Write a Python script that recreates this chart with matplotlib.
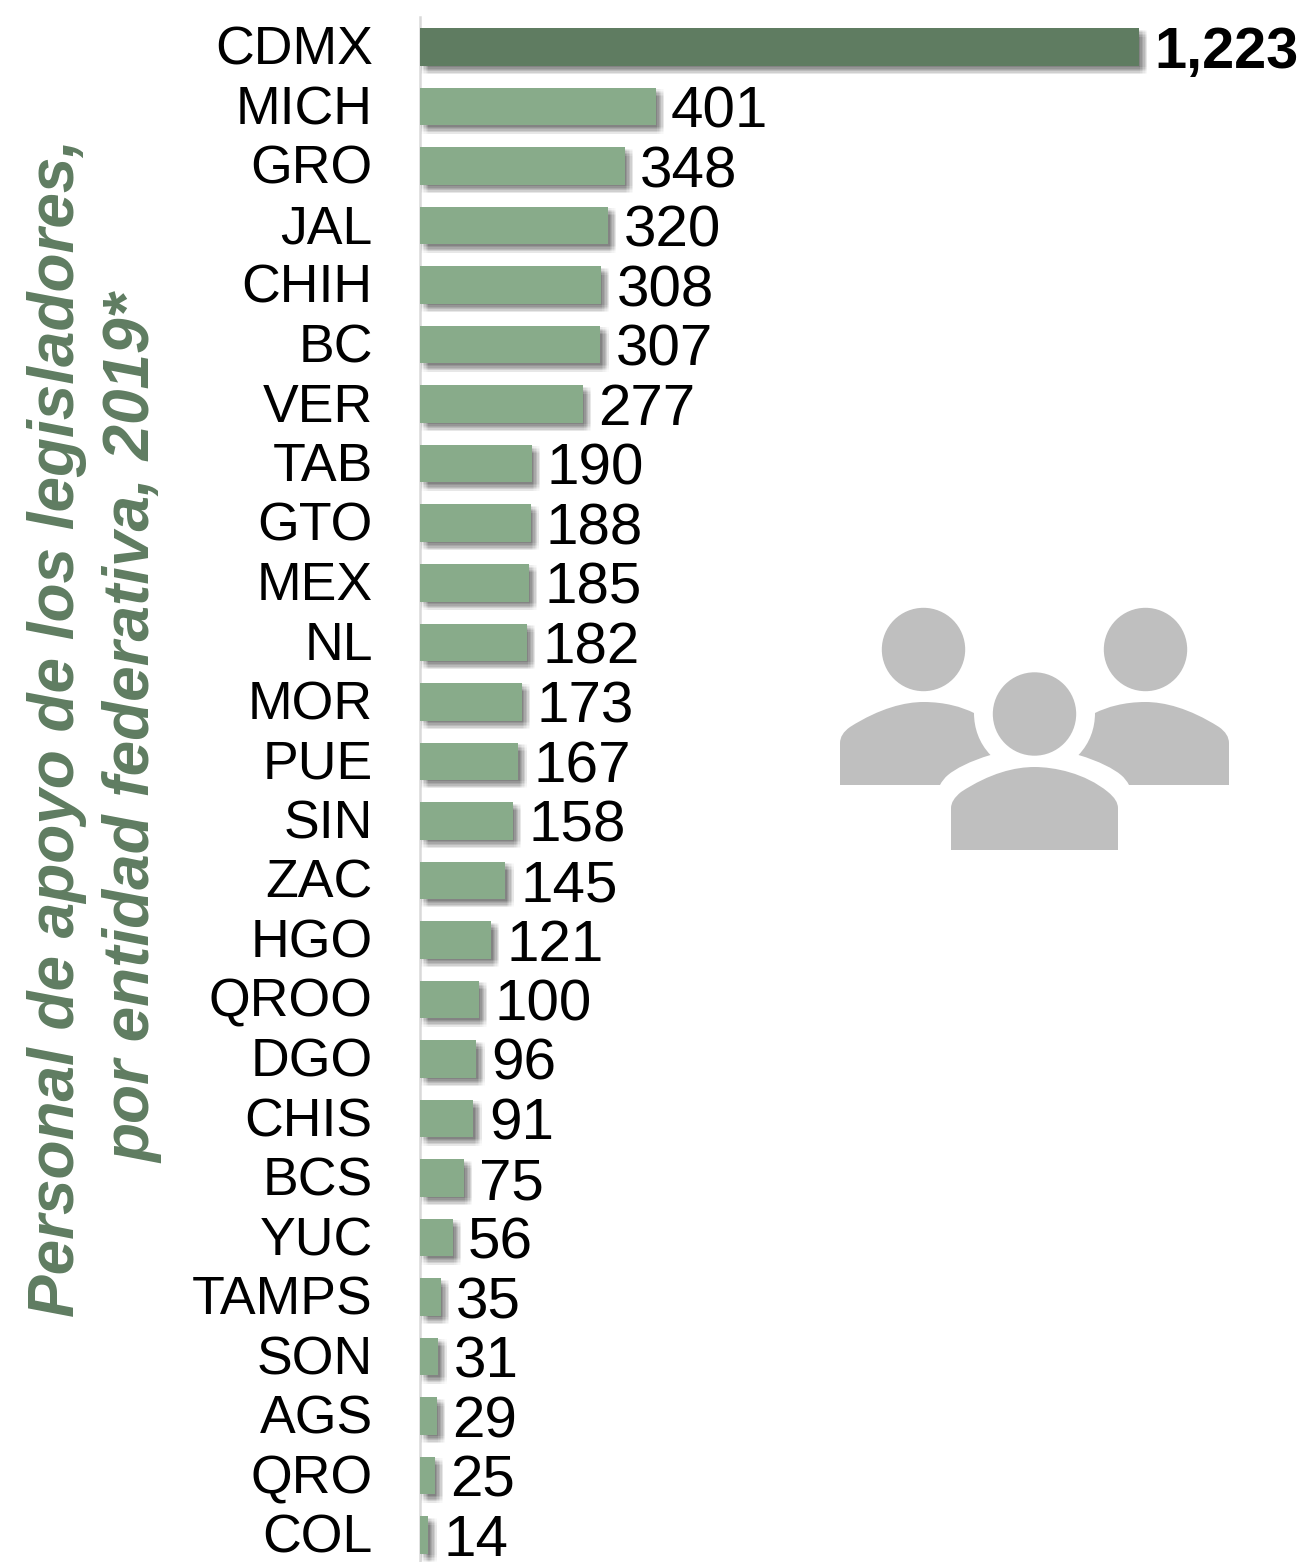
import matplotlib
matplotlib.use('Agg')
import matplotlib.pyplot as plt
import matplotlib.patheffects as pe
from matplotlib.patches import Circle, PathPatch
from matplotlib.path import Path
from matplotlib.transforms import ScaledTranslation

estados = ['CDMX', 'MICH', 'GRO', 'JAL', 'CHIH', 'BC', 'VER', 'TAB', 'GTO', 'MEX', 'NL', 'MOR', 'PUE',
           'SIN', 'ZAC', 'HGO', 'QROO', 'DGO', 'CHIS', 'BCS', 'YUC', 'TAMPS', 'SON', 'AGS', 'QRO', 'COL']
personal = [1223, 401, 348, 320, 308, 307, 277, 190, 188, 185, 182, 173, 167,
            158, 145, 121, 100, 96, 91, 75, 56, 35, 31, 29, 25, 14]
titulo = 'Personal de apoyo de los legisladores,\npor entidad federativa, 2019*'

VERDE_OSCURO = '#5f7c61'
VERDE_CLARO = '#88ab8a'
GRIS_ICONO = '#bfbfbf'

plt.rcParams['font.family'] = ['Liberation Sans', 'DejaVu Sans']

W, H = 1308, 1562
fig = plt.figure(figsize=(W / 100, H / 100), dpi=100)

# ejes en pixeles: la barra de 1223 llega a x=1139
ax = fig.add_axes([420 / W, 0, 888 / W, (H - 17) / H])
ax.set_xlim(0, 888 * 1223 / 719)
ax.set_ylim(25.45, -0.504)

# sombra difusa: muchas capas suaves desplazadas abajo a la derecha
sombra = [pe.SimplePatchShadow(offset=(dx, -dy), shadow_rgbFace='k', alpha=0.016)
          for dx in (1, 2, 3, 4, 5, 6)
          for dy in (1, 2, 3, 4, 5, 6)]
colores = [VERDE_OSCURO] + [VERDE_CLARO] * (len(personal) - 1)
barras = ax.barh(range(len(personal)), personal, height=0.63, color=colores, zorder=3)
for b in barras:
    b.set_path_effects(sombra + [pe.Normal()])

for i, v in enumerate(personal):
    grande = i == 0
    ax.annotate(f'{v:,}', xy=(v, i), xytext=(11, 0.3 if grande else 0), textcoords='offset points',
                ha='left', va='center_baseline', fontsize=41.5 if grande else 42,
                fontweight='bold' if grande else 'normal', color='black', annotation_clip=False)

ax.set_yticks(range(len(estados)))
ax.set_yticklabels(estados, fontsize=38.6, color='black')
ax.tick_params(axis='y', length=0, pad=34)
ax.set_xticks([])
subir = ScaledTranslation(0, 2 / 100, fig.dpi_scale_trans)
for t in ax.get_yticklabels():
    t.set_transform(t.get_transform() + subir)
for lado in ['top', 'right', 'bottom']:
    ax.spines[lado].set_visible(False)
ax.spines['left'].set_color('#d9d9d9')
ax.spines['left'].set_linewidth(1.8)

# icono de personas y titulo, en pixeles de la figura
over = fig.add_axes([0, 0, 1, 1])
over.set_xlim(0, W)
over.set_ylim(H, 0)
over.axis('off')
over.patch.set_alpha(0)

over.text(95, 728, titulo, rotation=90, ha='center', va='center', multialignment='center',
          fontsize=46, fontweight='bold', fontstyle='italic', color=VERDE_OSCURO, linespacing=1.36)

for cx, cy in [(923.5, 649.5), (1145.5, 649.5), (1034.5, 714)]:
    over.add_patch(Circle((cx, cy), 41.7, color=GRIS_ICONO, lw=0))

C3 = Path.CURVE3
C4 = Path.CURVE4
L = Path.LINETO
M = Path.MOVETO


def cuerpo_lateral(sx):
    # sx refleja el lado izquierdo sobre el eje del icono
    verts = [(840, 785), (840, 743), (840, 734), (850, 727),
             (880, 708), (905, 702), (923.5, 702),
             (945, 702), (962, 707), (974, 713),
             (974, 728), (979, 743), (990.5, 755),
             (970, 761), (955, 769), (948, 775),
             (943, 779), (940, 785), (840, 785)]
    codes = [M, L, C3, C3, C4, C4, C4, C4, C4, C4, C4, C4, C4, C4, C4, C4, C3, C3, L]
    return Path([(sx(x), y) for x, y in verts], codes)


over.add_patch(PathPatch(cuerpo_lateral(lambda x: x), fc=GRIS_ICONO, lw=0))
over.add_patch(PathPatch(cuerpo_lateral(lambda x: 2069 - x), fc=GRIS_ICONO, lw=0))

centro = Path([(951, 850), (951, 808), (951, 800), (961, 792),
               (990, 773), (1015, 767), (1034.5, 767),
               (1054, 767), (1085, 773), (1108, 792),
               (1118, 800), (1118, 808), (1118, 850), (951, 850)],
              [M, L, C3, C3, C4, C4, C4, C4, C4, C4, C3, C3, L, L])
over.add_patch(PathPatch(centro, fc=GRIS_ICONO, lw=0))

fig.savefig('out.png', dpi=100)
